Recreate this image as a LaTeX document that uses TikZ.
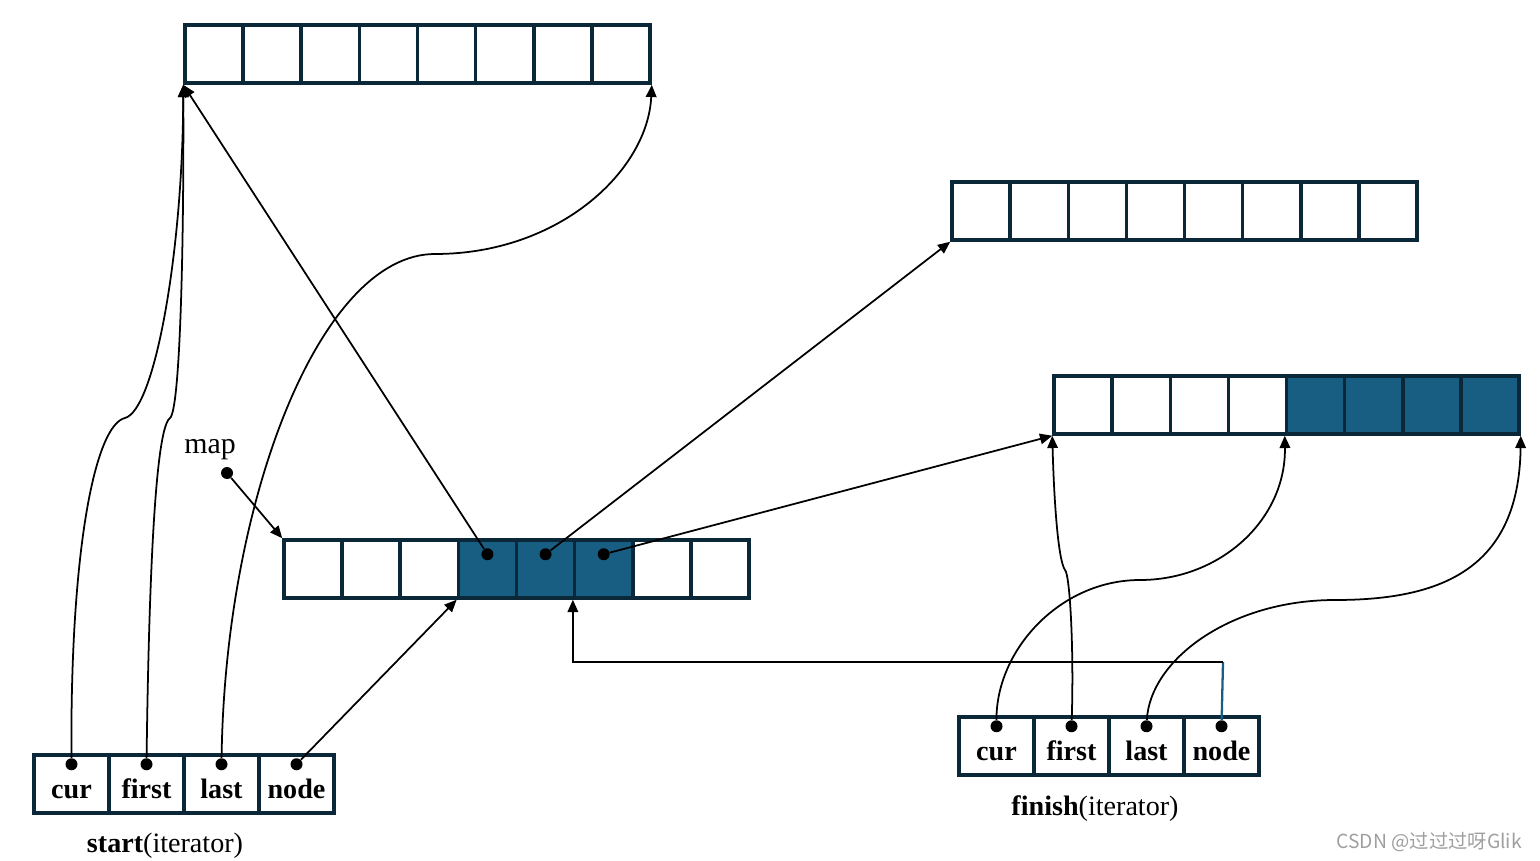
\documentclass[tikz,border=0pt]{standalone}
\usepackage{fontspec}
\setmainfont{Liberation Serif}
\newfontfamily\cjk{Noto Sans CJK SC}
\usetikzlibrary{positioning}
\usetikzlibrary{arrows.meta}

\definecolor{celledge}{RGB}{10,40,56}
\definecolor{cellfill}{RGB}{23,94,130}

\tikzset{
  cell/.style={draw=celledge, line width=2pt, minimum width=1.1625cm, minimum height=1.16cm, inner sep=0pt},
  full/.style={cell, fill=cellfill},
  slot/.style={draw=celledge, line width=2pt, minimum width=1.5cm, minimum height=1.16cm, inner sep=0pt,
    font=\fontsize{16}{18}\selectfont\bfseries, text height=3.6ex, text depth=0pt},
  dot/.style={circle, fill=black, inner sep=0pt, minimum size=0.24cm},
  link/.style={line width=1pt, -{Triangle[length=7pt,width=6pt]}},
  caption/.style={font=\fontsize{16}{18}\selectfont},
}

\begin{document}
\begin{tikzpicture}[x=0.02cm, y=-0.02cm]
    \useasboundingbox (0,0) rectangle (1540,861);

    % buffers
    \foreach \i in {1,...,8}
        \node[cell] (bufA-\i) at ({185+58.125*(\i-0.5)},54) {};
    \foreach \i in {1,...,8}
        \node[cell] (bufB-\i) at ({952+58.125*(\i-0.5)},211) {};
    \foreach \i/\s in {1/cell,2/cell,3/cell,4/cell,5/full,6/full,7/full,8/full}
        \node[\s] (bufC-\i) at ({1054+58.125*(\i-0.5)},405) {};

    % map
    \foreach \i/\s in {1/cell,2/cell,3/cell,4/full,5/full,6/full,7/cell,8/cell}
        \node[\s] (map-\i) at ({284+58.125*(\i-0.5)},569) {};
    \foreach \i in {4,5,6}
        \node[dot] (ptr-\i) at ([yshift=-0.32cm]map-\i.north) {};
    \node[caption, font=\fontsize{17}{19}\selectfont] (maplabel) at (210,450) {map};
    \node[dot] (mapptr) at (227,473) {};

    % iterators
    \foreach \lbl [count=\i] in {cur,first,last,node} {
        \node[slot] (start-\i) at ({34+75*(\i-0.5)},784) {\lbl};
        \node[dot] (start-\lbl) at ([yshift=-0.22cm]start-\i.north) {};
        \node[slot] (finish-\i) at ({959+75*(\i-0.5)},746) {\lbl};
        \node[dot] (finish-\lbl) at ([yshift=-0.22cm]finish-\i.north) {};
    }
    \node[caption] (startname) at (165,846) {\textbf{start}(iterator)};
    \node[caption] (finishname) at (1095,809) {\textbf{finish}(iterator)};

    % map pointers
    \draw[link] (mapptr) -- (map-1.north west);
    \draw[link] (ptr-4) -- (bufA-1.south west);
    \draw[link] (ptr-5) -- (bufB-1.south west);
    \draw[link] (ptr-6) -- (bufC-1.south west);

    % start
    \draw[link] (start-cur) .. controls (70,550) and (95,425) .. (125,418)
        .. controls (155,410) and (183,250) .. (bufA-1.south west);
    \draw[link] (start-first) .. controls (150,500) and (160,425) .. (170,418)
        .. controls (180,410) and (184,250) .. (bufA-1.south west);
    \draw[link] (start-last) .. controls (225,500) and (320,254) .. (435,254)
        .. controls (560,254) and (648,170) .. (bufA-8.south east);
    \draw[link] (start-node) -- (map-4.south west);

    % finish
    \draw[link] (finish-cur) .. controls (996,650) and (1060,580) .. (1140,580)
        .. controls (1220,580) and (1286,520) .. (bufC-5.south west);
    \draw[link] (finish-first) .. controls (1074,650) and (1070,575) .. (1065,570)
        .. controls (1058,560) and (1054,500) .. (bufC-1.south west);
    \draw[link] (finish-last) .. controls (1150,660) and (1230,600) .. (1335,600)
        .. controls (1440,600) and (1519,570) .. (bufC-8.south east);
    \coordinate (bend) at (1223,662);
    \draw[line width=1.3pt, draw=cellfill] (finish-node) -- (bend);
    \draw[link] (bend) -| (map-6.south west);

    \node[font=\cjk\fontsize{11}{13}\selectfont, text=gray!75, anchor=east] (mark) at (1528,842) {CSDN @过过过呀Glik};
\end{tikzpicture}
\end{document}
